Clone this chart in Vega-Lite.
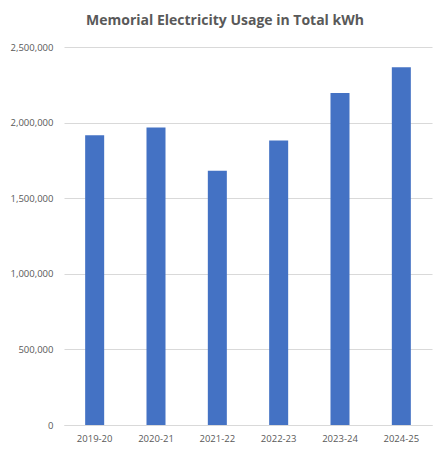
{
  "$schema": "https://vega.github.io/schema/vega-lite/v6.json",
  "autosize": "none",
  "width": 368,
  "height": 378,
  "padding": {"left": 64, "top": 47, "right": 15, "bottom": 26},
  "background": "white",
  "title": {
    "text": "Memorial Electricity Usage in Total kWh",
    "font": "Open Sans",
    "fontSize": 14,
    "fontWeight": "bold",
    "color": "#595959",
    "anchor": "middle",
    "dx": -23,
    "offset": 14
  },
  "data": {
    "values": [
      {"year": "2019-20", "kwh": 1917000},
      {"year": "2020-21", "kwh": 1968000},
      {"year": "2021-22", "kwh": 1682000},
      {"year": "2022-23", "kwh": 1882000},
      {"year": "2023-24", "kwh": 2195000},
      {"year": "2024-25", "kwh": 2366000}
    ]
  },
  "mark": {"type": "bar", "color": "#4472C4"},
  "encoding": {
    "x": {
      "field": "year",
      "type": "nominal",
      "sort": null,
      "scale": {"paddingInner": 0.69, "paddingOuter": 0.345},
      "axis": {
        "title": null,
        "labelAngle": 0,
        "labelFont": "Open Sans",
        "labelFontSize": 9.5,
        "labelColor": "#595959",
        "ticks": false,
        "labelPadding": 8,
        "domainColor": "#d9d9d9",
        "grid": false
      }
    },
    "y": {
      "field": "kwh",
      "type": "quantitative",
      "scale": {"domain": [0, 2500000]},
      "axis": {
        "title": null,
        "values": [0, 500000, 1000000, 1500000, 2000000, 2500000],
        "format": ",d",
        "labelFont": "Open Sans",
        "labelFontSize": 9.5,
        "labelColor": "#595959",
        "ticks": false,
        "domain": false,
        "labelPadding": 11,
        "gridColor": "#d9d9d9"
      }
    }
  },
  "config": {"view": {"stroke": null}}
}
